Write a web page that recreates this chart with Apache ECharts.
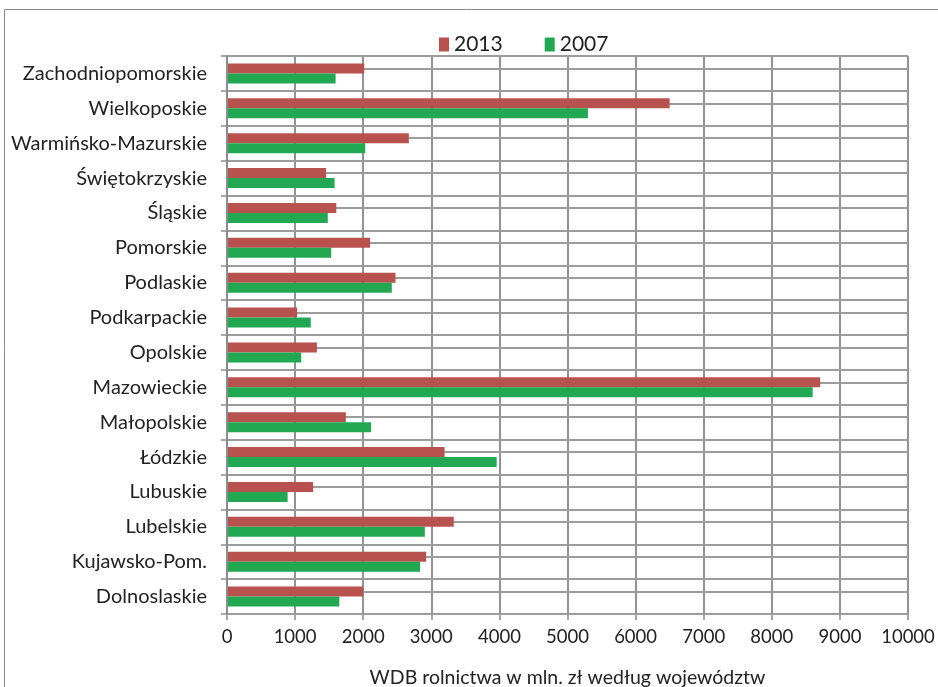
<!DOCTYPE html>
<html>
<head>
<meta charset="utf-8">
<script src="https://cdn.jsdelivr.net/npm/echarts@6/dist/echarts.min.js"></script>
<style>html,body{margin:0;padding:0;background:#fff;}#c{width:938px;height:687px;}</style>
</head>
<body>
<div id="c"></div>
<script>
const categories = ['Dolnoslaskie','Kujawsko-Pom.','Lubelskie','Lubuskie','Łódzkie','Małopolskie','Mazowieckie','Opolskie','Podkarpackie','Podlaskie','Pomorskie','Śląskie','Świętokrzyskie','Warmińsko-Mazurskie','Wielkoposkie','Zachodniopomorskie'];
const values2013 = [2000,2925,3330,1265,3195,1745,8710,1320,1030,2475,2100,1605,1455,2670,6500,2015];
const values2007 = [1650,2835,2905,890,3960,2115,8600,1090,1230,2420,1530,1480,1580,2030,5300,1595];
const xTicks = {min:0, max:10000, interval:1000};
const axisTitle = 'WDB rolnictwa w mln. zł według województw';

const font = 'Lato, "Open Sans", sans-serif';
const chart = echarts.init(document.getElementById('c'));
chart.setOption({
  animation:false,
  graphic:[{type:'rect',shape:{x:4.5,y:9.5,width:1000,height:1000},style:{fill:'none',stroke:'#8a8a8a',lineWidth:1}}],
  legend:{data:['2013','2007'],top:29,left:434,itemWidth:10,itemHeight:14,itemGap:42,icon:'rect',
    textStyle:{fontFamily:font,fontSize:21,color:'#222'}},
  grid:{left:227,right:30,top:56,bottom:73,outerBoundsMode:'none',containLabel:false},
  xAxis:{type:'value',min:xTicks.min,max:xTicks.max,interval:xTicks.interval,
    name:axisTitle,nameLocation:'middle',nameGap:54,nameTextStyle:{fontFamily:font,fontSize:19.5,color:'#222'},
    axisLine:{show:true,lineStyle:{color:'#8c8c8c',width:2}},
    axisTick:{show:true,length:6,lineStyle:{color:'#8c8c8c',width:1.5}},
    axisLabel:{fontFamily:font,fontSize:18.5,color:'#222',margin:14,formatter:function(v){return String(v);}},
    splitLine:{show:true,lineStyle:{color:'#929292',width:2}}},
  yAxis:{type:'category',data:categories,z:5,
    axisLine:{show:true,lineStyle:{color:'#8c8c8c',width:2}},
    axisTick:{show:true,length:6,lineStyle:{color:'#8c8c8c',width:1.5}},
    axisLabel:{fontFamily:font,fontSize:20,color:'#222',margin:20},
    splitLine:{show:true,interval:0,lineStyle:{color:'#9c9c9c',width:2,opacity:1}}},
  series:[
    {name:'2013',type:'bar',data:values2013,itemStyle:{color:'#B8524E'},barGap:'0%',barCategoryGap:'43%',z:3,
     markLine:{silent:true,symbol:'none',z:1,label:{show:false},lineStyle:{color:'#9c9c9c',width:2,type:'solid',opacity:1},
       emphasis:{disabled:true},data:categories.map(function(c){return {yAxis:c};})}},
    {name:'2007',type:'bar',data:values2007,itemStyle:{color:'#22A852'},barGap:'0%',barCategoryGap:'43%',z:3}
  ]
});
</script>
</body>
</html>
